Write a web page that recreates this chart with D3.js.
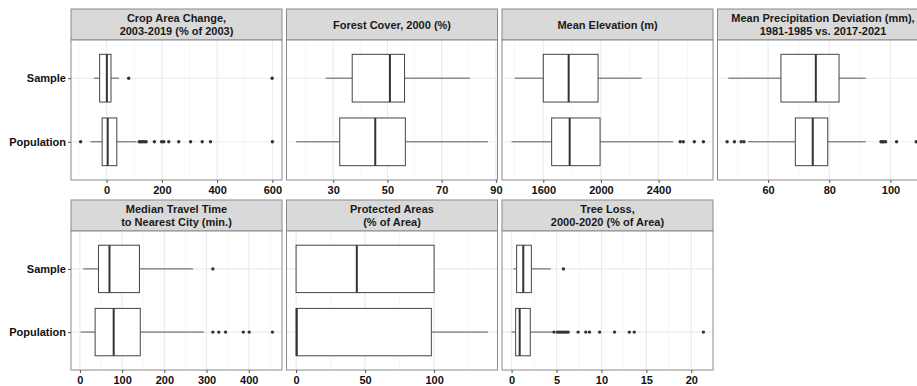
<!DOCTYPE html>
<html>
<head>
<meta charset="utf-8">
<script src="https://cdn.jsdelivr.net/npm/d3@7"></script>
<style>
  body { margin: 0; background: #fff; }
  text { font-family: "Liberation Sans", Arial, sans-serif; }
</style>
</head>
<body>
<div id="chart"></div>
<script>
const titles = [
  ["Crop Area Change,", "2003-2019 (% of 2003)"],
  ["Forest Cover, 2000 (%)"],
  ["Mean Elevation (m)"],
  ["Mean Precipitation Deviation (mm),", "1981-1985 vs. 2017-2021"],
  ["Median Travel Time", "to Nearest City (min.)"],
  ["Protected Areas", "(% of Area)"],
  ["Tree Loss,", "2000-2020 (% of Area)"]
];
const groups = ["Sample", "Population"];

// lower whisker, q1, median, q3, upper whisker
const sampleStats = [
  [-46, -25, 1, 16, 45],
  [27.2, 37.0, 50.9, 56.3, 80.4],
  [1403, 1600, 1776, 1980, 2282],
  [47.0, 64.2, 75.6, 83.2, 91.9],
  [8, 44, 70, 141, 268],
  [0, 0, 44, 100, 100],
  [0.19, 0.56, 1.3, 2.2, 4.35]
];
const populationStats = [
  [-58, -16, 4, 37, 108],
  [16.3, 32.4, 45.5, 56.6, 87.05],
  [1380, 1658, 1783, 1994, 2502],
  [53.5, 68.9, 74.6, 79.5, 91.9],
  [1.6, 36, 80, 143, 294],
  [0, 0, 0.5, 98, 139],
  [0, 0.45, 0.9, 2.08, 4.6]
];
const sampleOutliers = [
  [80, 599], [], [], [], [315], [], [5.77]
];
const populationOutliers = [
  [-94, 118, 124, 130, 136, 143, 173, 199, 207, 225, 261, 304, 346, 376, 600],
  [],
  [2550, 2571, 2648, 2711],
  [46.6, 49.0, 51.2, 52.1, 96.9, 97.3, 97.8, 98.4, 102, 108.4, 109.3],
  [315, 329, 345, 387, 401, 456],
  [],
  [4.72, 5.1, 5.3, 5.5, 5.7, 5.9, 6.1, 6.3, 7.4, 8.26, 8.67, 9.8, 11.46, 13.1, 13.65, 21.35]
];
const tickValues = [
  [0, 200, 400, 600],
  [30, 50, 70, 90],
  [1600, 2000, 2400],
  [60, 80, 100],
  [0, 100, 200, 300, 400],
  [0, 50, 100],
  [0, 5, 10, 15, 20]
];

const width = 917, height = 386;
const left0 = 71, panelW = 211, gapX = 4.5;
const rowTop = [9, 200];
const stripH = 31;
const panelH = [140, 139];

const svg = d3.select("#chart").append("svg")
  .attr("width", width)
  .attr("height", height);

titles.forEach((title, i) => {
  const col = i % 4, row = Math.floor(i / 4);
  const g = svg.append("g")
    .attr("transform", `translate(${left0 + col * (panelW + gapX)},${rowTop[row]})`);
  const ph = panelH[row];

  const stats = [sampleStats[i], populationStats[i]];
  const outs = [sampleOutliers[i], populationOutliers[i]];
  const all = stats.flat().concat(outs.flat());
  const lo = d3.min(all), hi = d3.max(all), pad = (hi - lo) * 0.05;

  const x = d3.scaleLinear().domain([lo - pad, hi + pad]).range([0, panelW]);
  const y = d3.scalePoint().domain(groups).range([0, ph]).padding(0.6);
  const half = y.step() * 0.375;

  // strip
  g.append("rect")
    .attr("width", panelW).attr("height", stripH)
    .attr("fill", "#d9d9d9").attr("stroke", "#8a8a8a");
  const st = g.append("text")
    .attr("text-anchor", "middle")
    .attr("font-size", 11).attr("font-weight", "bold").attr("fill", "#1a1a1a");
  const lh = 13;
  title.forEach((line, k) => {
    st.append("tspan")
      .attr("x", panelW / 2)
      .attr("y", stripH / 2 + 4 + (k - (title.length - 1) / 2) * lh)
      .text(line);
  });

  const p = g.append("g").attr("transform", `translate(0,${stripH})`);
  p.append("rect").attr("width", panelW).attr("height", ph).attr("fill", "#fff");

  // minor grid
  const ticks = tickValues[i];
  const stepT = ticks[1] - ticks[0];
  const minor = [ticks[0] - stepT / 2].concat(ticks.map(t => t + stepT / 2))
    .filter(v => v > x.domain()[0] && v < x.domain()[1]);
  p.selectAll(".minor").data(minor).enter().append("line")
    .attr("x1", d => x(d)).attr("x2", d => x(d))
    .attr("y1", 0).attr("y2", ph)
    .attr("stroke", "#f3f3f3").attr("stroke-width", 0.7);
  p.selectAll(".major").data(ticks).enter().append("line")
    .attr("x1", d => x(d)).attr("x2", d => x(d))
    .attr("y1", 0).attr("y2", ph)
    .attr("stroke", "#ebebeb").attr("stroke-width", 1.1);
  p.selectAll(".hgrid").data(groups).enter().append("line")
    .attr("x1", 0).attr("x2", panelW)
    .attr("y1", d => y(d)).attr("y2", d => y(d))
    .attr("stroke", "#ebebeb").attr("stroke-width", 1.1);

  groups.forEach((grp, k) => {
    const s = stats[k], cy = y(grp);
    p.append("line")
      .attr("x1", x(s[0])).attr("x2", x(s[1]))
      .attr("y1", cy).attr("y2", cy)
      .attr("stroke", "#5a5a5a").attr("stroke-width", 1);
    p.append("line")
      .attr("x1", x(s[3])).attr("x2", x(s[4]))
      .attr("y1", cy).attr("y2", cy)
      .attr("stroke", "#5a5a5a").attr("stroke-width", 1);
    p.append("rect")
      .attr("x", x(s[1])).attr("width", x(s[3]) - x(s[1]))
      .attr("y", cy - half).attr("height", half * 2)
      .attr("fill", "#fff").attr("stroke", "#444").attr("stroke-width", 1);
    p.append("line")
      .attr("x1", x(s[2])).attr("x2", x(s[2]))
      .attr("y1", cy - half).attr("y2", cy + half)
      .attr("stroke", "#333").attr("stroke-width", 2);
    p.selectAll(null).data(outs[k]).enter().append("circle")
      .attr("cx", d => x(d)).attr("cy", cy).attr("r", 1.7)
      .attr("fill", "#333");
  });

  p.append("rect").attr("width", panelW).attr("height", ph)
    .attr("fill", "none").attr("stroke", "#8a8a8a");

  // x axis
  const xa = p.append("g").attr("transform", `translate(0,${ph})`)
    .call(d3.axisBottom(x).tickValues(ticks).tickSize(3).tickPadding(3.5).tickFormat(d3.format("d")));
  xa.select(".domain").remove();
  xa.selectAll("line").attr("stroke", "#555");
  xa.selectAll("text").attr("font-size", 11).attr("font-weight", "bold").attr("fill", "#111")
    .attr("font-family", "Liberation Sans, Arial, sans-serif");

  if (col === 0) {
    const ya = p.append("g")
      .call(d3.axisLeft(y).tickSize(3).tickPadding(2));
    ya.select(".domain").remove();
    ya.selectAll("line").attr("stroke", "#555");
    ya.selectAll("text").attr("font-size", 11).attr("font-weight", "bold").attr("fill", "#111")
      .attr("font-family", "Liberation Sans, Arial, sans-serif");
  }
});
</script>
</body>
</html>
